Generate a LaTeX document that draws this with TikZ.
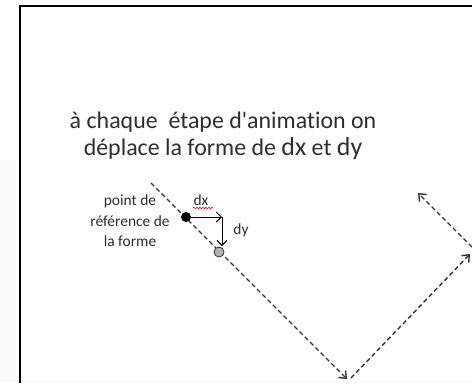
\documentclass[tikz,border=0pt]{standalone}
\usepackage{fontspec}
\setmainfont{Carlito}[Ligatures={NoCommon}]
\usetikzlibrary{arrows.meta,decorations.pathmorphing}
\definecolor{txt}{HTML}{2E2E2E}
\definecolor{ln}{HTML}{333333}
\tikzset{
  path/.style={draw=ln, line width=1.4bp, dash pattern=on 4.5bp off 3bp, -{Straight Barb[length=6bp,width=10bp]}},
  motion/.style={draw=black, line width=1bp, -{Straight Barb[length=5bp,width=10bp]}},
  lbl/.style={text=txt, font=\fontsize{15.5}{20.7}\selectfont, inner sep=0pt, align=center},
  big/.style={text=txt, font=\fontsize{24}{27}\selectfont, inner sep=0pt, align=center},
}
\begin{document}
\begin{tikzpicture}[x=1bp,y=-1bp]
\useasboundingbox (0,0) rectangle (472,383);
\fill[gray!4] (0,160) rectangle (17,383);
\fill[gray!4] (17,381) rectangle (472,383);
\fill[white] (20,6) rectangle (472,381);
\draw[black, line width=1.4bp] (20,383) -- (20,6) -- (472,6);
% trajectory
\coordinate (s1) at (151,183);
\coordinate (b1) at (347,379);
\coordinate (s2) at (351,378);
\coordinate (b2) at (470,254);
\coordinate (s3) at (472,247);
\coordinate (e3) at (418,193);
\draw[path] (s1) -- (b1);
\draw[path] (s2) -- (b2);
\draw[path] (s3) -- (e3);
% points
\node[circle, fill=black, inner sep=0pt, minimum size=10bp] (ref) at (186,217) {};
\node[circle, fill=gray!60, draw=ln, line width=0.8bp, inner sep=0pt, minimum size=10bp] (new) at (219,252) {};
\coordinate (corner) at (222,217);
\coordinate (dyend) at (222,246);
\draw[motion] (ref.east) -- (corner);
\draw[motion] (corner) -- (dyend);
% labels
\node[lbl] (dx) at (201,200) {dx};
\draw[red, line width=0.6bp, decorate, decoration={snake, amplitude=0.8bp, segment length=3bp}] (193,208) -- (213,208);
\node[lbl] (dy) at (241,230) {dy};
\node[lbl] (pref) at (130,221) {point de\\référence de\\la forme};
\node[big] (title) at (223,136) {à chaque\ \ étape d\textquotesingle animation on\\déplace la forme de {\fontsize{26}{27}\selectfont dx} et {\fontsize{26}{27}\selectfont dy}};
\end{tikzpicture}
\end{document}
